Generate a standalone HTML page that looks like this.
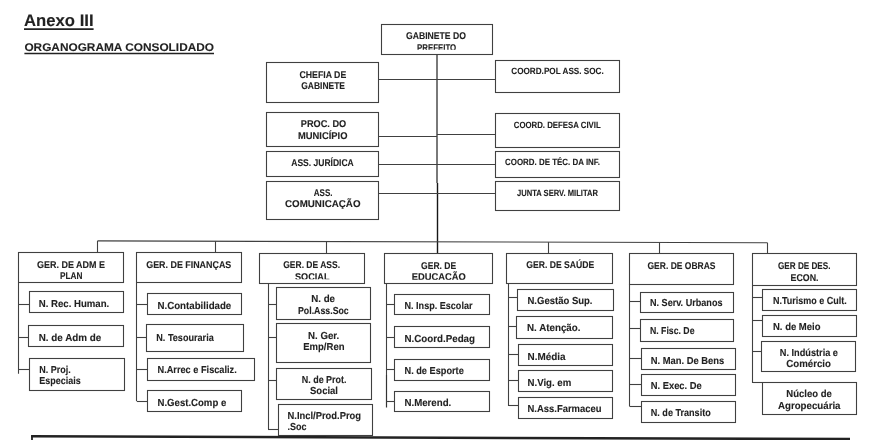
<!DOCTYPE html>
<html lang="pt-BR">
<head>
<meta charset="utf-8">
<title>Anexo III - Organograma Consolidado</title>
<style>
html,body{margin:0;padding:0;background:#fff;}
body{width:890px;height:440px;overflow:hidden;}
svg{display:block;will-change:transform;}
text{text-rendering:geometricPrecision;font-family:"Liberation Sans",sans-serif;font-weight:bold;fill:#222;stroke:#222;stroke-width:0.1px;stroke-linejoin:round;}
</style>
</head>
<body>
<svg width="890" height="440" viewBox="0 0 890 440">
<rect x="0" y="0" width="890" height="440" fill="#ffffff"/>
<text class="t" x="24" y="26.4" font-size="16.8" textLength="69.6" lengthAdjust="spacingAndGlyphs">Anexo III</text>
<line x1="24" y1="29.2" x2="93.6" y2="29.2" stroke="#222" stroke-width="1.8"/>
<text class="t" x="24.4" y="51" font-size="11.2" textLength="189.6" lengthAdjust="spacingAndGlyphs">ORGANOGRAMA CONSOLIDADO</text>
<line x1="24.4" y1="53.5" x2="214" y2="53.5" stroke="#222" stroke-width="1.4"/>
<rect x="381.5" y="24.5" width="111.0" height="30.0" fill="none" stroke="#404040" stroke-width="1.1"/>
<rect x="266.5" y="62.5" width="112.0" height="40.0" fill="none" stroke="#404040" stroke-width="1.1"/>
<rect x="266.5" y="112.5" width="112.0" height="34.0" fill="none" stroke="#404040" stroke-width="1.1"/>
<rect x="266.5" y="151.5" width="112.0" height="25.0" fill="none" stroke="#404040" stroke-width="1.1"/>
<rect x="266.5" y="181.5" width="112.0" height="38.0" fill="none" stroke="#404040" stroke-width="1.1"/>
<rect x="495.5" y="60.5" width="124.0" height="32.0" fill="none" stroke="#404040" stroke-width="1.1"/>
<rect x="495.5" y="113.5" width="124.0" height="34.0" fill="none" stroke="#404040" stroke-width="1.1"/>
<rect x="495.5" y="151.5" width="124.0" height="26.0" fill="none" stroke="#404040" stroke-width="1.1"/>
<rect x="495.5" y="181.5" width="124.0" height="29.0" fill="none" stroke="#404040" stroke-width="1.1"/>
<line x1="437" y1="54.5" x2="437" y2="183" stroke="#404040" stroke-width="1.4"/>
<line x1="437.5" y1="183" x2="437.5" y2="253.5" stroke="#161616" stroke-width="1.4"/>
<line x1="378.75" y1="79.5" x2="437" y2="79.5" stroke="#404040" stroke-width="1.1"/>
<line x1="378.75" y1="136.5" x2="437" y2="136.5" stroke="#404040" stroke-width="1.1"/>
<line x1="378.75" y1="164.5" x2="437" y2="164.5" stroke="#404040" stroke-width="1.1"/>
<line x1="378.75" y1="193.5" x2="437" y2="193.5" stroke="#404040" stroke-width="1.1"/>
<line x1="437" y1="79.5" x2="495.75" y2="79.5" stroke="#404040" stroke-width="1.1"/>
<line x1="437" y1="134.5" x2="495.75" y2="134.5" stroke="#404040" stroke-width="1.1"/>
<line x1="437" y1="164.5" x2="495.75" y2="164.5" stroke="#404040" stroke-width="1.1"/>
<line x1="437" y1="193.5" x2="495.75" y2="193.5" stroke="#404040" stroke-width="1.1"/>
<line x1="97.5" y1="240.9" x2="767.5" y2="242.8" stroke="#404040" stroke-width="1.1"/>
<line x1="97.5" y1="240.9" x2="97.5" y2="253" stroke="#404040" stroke-width="1.1"/>
<line x1="215.5" y1="241.23" x2="215.5" y2="253" stroke="#404040" stroke-width="1.1"/>
<line x1="326.5" y1="241.55" x2="326.5" y2="253.75" stroke="#404040" stroke-width="1.1"/>
<line x1="548.5" y1="242.18" x2="548.5" y2="253.25" stroke="#404040" stroke-width="1.1"/>
<line x1="659.5" y1="242.49" x2="659.5" y2="253.75" stroke="#404040" stroke-width="1.1"/>
<line x1="767.5" y1="242.8" x2="767.5" y2="253.75" stroke="#404040" stroke-width="1.1"/>
<clipPath id="c1"><rect x="380" y="20" width="120" height="29.8"/></clipPath>
<clipPath id="c2"><rect x="258" y="250" width="240" height="29.3"/></clipPath>
<clipPath id="c3"><rect x="380" y="250" width="120" height="29.8"/></clipPath>
<text class="h" x="406" y="39.0" font-size="9.8" textLength="60" lengthAdjust="spacingAndGlyphs">GABINETE DO</text>
<text class="h" x="417" y="51.15" font-size="9.8" textLength="39.25" lengthAdjust="spacingAndGlyphs" clip-path="url(#c1)">PREFEITO</text>
<text class="h" x="299.5" y="77.9" font-size="9.8" textLength="46.75" lengthAdjust="spacingAndGlyphs">CHEFIA DE</text>
<text class="h" x="301.25" y="89.4" font-size="9.8" textLength="43.75" lengthAdjust="spacingAndGlyphs">GABINETE</text>
<text class="h" x="300.75" y="127.4" font-size="9.8" textLength="45.5" lengthAdjust="spacingAndGlyphs">PROC. DO</text>
<text class="h" x="298" y="139.15" font-size="9.8" textLength="49.5" lengthAdjust="spacingAndGlyphs">MUNICÍPIO</text>
<text class="h" x="291.25" y="166.15" font-size="9.8" textLength="62.5" lengthAdjust="spacingAndGlyphs">ASS. JURÍDICA</text>
<text class="h" x="313.75" y="196.15" font-size="9.8" textLength="18.75" lengthAdjust="spacingAndGlyphs">ASS.</text>
<text class="h" x="285" y="207.4" font-size="9.8" textLength="75.5" lengthAdjust="spacingAndGlyphs">COMUNICAÇÃO</text>
<text class="h" x="511.25" y="74.15" font-size="9.0" textLength="92.5" lengthAdjust="spacingAndGlyphs">COORD.POL ASS. SOC.</text>
<text class="h" x="513.75" y="127.7" font-size="9.0" textLength="87.0" lengthAdjust="spacingAndGlyphs">COORD. DEFESA CIVIL</text>
<text class="h" x="505" y="164.9" font-size="9.0" textLength="95" lengthAdjust="spacingAndGlyphs">COORD. DE TÉC. DA INF.</text>
<text class="h" x="517" y="195.65" font-size="9.0" textLength="81" lengthAdjust="spacingAndGlyphs">JUNTA SERV. MILITAR</text>
<rect x="18.5" y="252.5" width="105.0" height="30.0" fill="none" stroke="#404040" stroke-width="1.1"/>
<rect x="136.5" y="252.5" width="105.0" height="30.0" fill="none" stroke="#404040" stroke-width="1.1"/>
<rect x="259.5" y="253.5" width="105.0" height="30.0" fill="none" stroke="#404040" stroke-width="1.1"/>
<rect x="384.5" y="253.5" width="108.0" height="30.0" fill="none" stroke="#404040" stroke-width="1.1"/>
<rect x="506.5" y="253.5" width="106.0" height="30.0" fill="none" stroke="#404040" stroke-width="1.1"/>
<rect x="629.5" y="253.5" width="104.0" height="31.0" fill="none" stroke="#404040" stroke-width="1.1"/>
<rect x="752.5" y="253.5" width="104.0" height="32.0" fill="none" stroke="#404040" stroke-width="1.1"/>
<text class="h" x="37" y="267.9" font-size="9.8" textLength="68" lengthAdjust="spacingAndGlyphs">GER. DE ADM E</text>
<text class="h" x="60" y="278.9" font-size="9.8" textLength="22.5" lengthAdjust="spacingAndGlyphs">PLAN</text>
<text class="h" x="146.25" y="267.9" font-size="9.8" textLength="85.0" lengthAdjust="spacingAndGlyphs">GER. DE FINANÇAS</text>
<text class="h" x="283.25" y="268.15" font-size="9.8" textLength="56.75" lengthAdjust="spacingAndGlyphs">GER. DE ASS.</text>
<text class="h" x="295" y="280.0" font-size="9.8" textLength="34.5" lengthAdjust="spacingAndGlyphs" clip-path="url(#c2)">SOCIAL</text>
<text class="h" x="421.1" y="268.65" font-size="9.8" textLength="35.1" lengthAdjust="spacingAndGlyphs">GER. DE</text>
<text class="h" x="411.7" y="280.4" font-size="9.8" textLength="54.1" lengthAdjust="spacingAndGlyphs" clip-path="url(#c3)">EDUCAÇÃO</text>
<text class="h" x="526.25" y="268.15" font-size="9.8" textLength="68.0" lengthAdjust="spacingAndGlyphs">GER. DE SAÚDE</text>
<text class="h" x="647.5" y="268.65" font-size="9.8" textLength="68.0" lengthAdjust="spacingAndGlyphs">GER. DE OBRAS</text>
<text class="h" x="778" y="269.4" font-size="9.8" textLength="52.5" lengthAdjust="spacingAndGlyphs">GER DE DES.</text>
<text class="h" x="790.5" y="280.65" font-size="9.8" textLength="28.0" lengthAdjust="spacingAndGlyphs">ECON.</text>
<line x1="18.5" y1="283" x2="18.5" y2="373.75" stroke="#404040" stroke-width="1.1"/>
<line x1="136.5" y1="283" x2="136.5" y2="401.25" stroke="#404040" stroke-width="1.1"/>
<line x1="268.5" y1="283.25" x2="268.5" y2="429.25" stroke="#404040" stroke-width="1.1"/>
<line x1="386.5" y1="283.25" x2="386.5" y2="375" stroke="#404040" stroke-width="1.1"/>
<line x1="386.5" y1="375" x2="386.5" y2="407.5" stroke="#333" stroke-width="1.2"/>
<line x1="508.5" y1="283.75" x2="508.5" y2="405.75" stroke="#404040" stroke-width="1.1"/>
<line x1="629.5" y1="284.25" x2="629.5" y2="406.25" stroke="#404040" stroke-width="1.1"/>
<line x1="752.5" y1="285.5" x2="752.5" y2="383" stroke="#404040" stroke-width="1.1"/>
<rect x="29.5" y="291.5" width="94.0" height="21.0" fill="none" stroke="#404040" stroke-width="1.1"/>
<line x1="19" y1="304.5" x2="29.25" y2="304.5" stroke="#404040" stroke-width="1.1"/>
<text class="n" x="38.75" y="306.6" font-size="10.2" textLength="70.5" lengthAdjust="spacingAndGlyphs">N. Rec. Human.</text>
<rect x="28.5" y="325.5" width="95.0" height="21.0" fill="none" stroke="#404040" stroke-width="1.1"/>
<line x1="19" y1="337.5" x2="29" y2="337.5" stroke="#404040" stroke-width="1.1"/>
<text class="n" x="38.75" y="341.1" font-size="10.2" textLength="62.5" lengthAdjust="spacingAndGlyphs">N. de Adm de</text>
<rect x="29.5" y="358.5" width="95.0" height="32.0" fill="none" stroke="#404040" stroke-width="1.1"/>
<line x1="19" y1="369.5" x2="29.5" y2="369.5" stroke="#404040" stroke-width="1.1"/>
<text class="n" x="39.25" y="372.85" font-size="10.2" textLength="31.5" lengthAdjust="spacingAndGlyphs">N. Proj.</text>
<text class="n" x="39.25" y="384.35" font-size="10.2" textLength="41.5" lengthAdjust="spacingAndGlyphs">Especiais</text>
<rect x="147.5" y="293.5" width="94.0" height="21.0" fill="none" stroke="#404040" stroke-width="1.1"/>
<line x1="137" y1="304.5" x2="147.5" y2="304.5" stroke="#404040" stroke-width="1.1"/>
<text class="n" x="157.5" y="308.6" font-size="10.2" textLength="73.75" lengthAdjust="spacingAndGlyphs">N.Contabilidade</text>
<rect x="146.5" y="324.5" width="97.0" height="27.0" fill="none" stroke="#404040" stroke-width="1.1"/>
<line x1="137" y1="337.5" x2="146.25" y2="337.5" stroke="#404040" stroke-width="1.1"/>
<text class="n" x="156.25" y="341.1" font-size="10.2" textLength="57.5" lengthAdjust="spacingAndGlyphs">N. Tesouraria</text>
<rect x="147.5" y="358.5" width="107.0" height="22.0" fill="none" stroke="#404040" stroke-width="1.1"/>
<line x1="137" y1="369.5" x2="147.5" y2="369.5" stroke="#404040" stroke-width="1.1"/>
<text class="n" x="157.5" y="372.85" font-size="10.2" textLength="79.25" lengthAdjust="spacingAndGlyphs">N.Arrec e Fiscaliz.</text>
<rect x="147.5" y="390.5" width="94.0" height="21.0" fill="none" stroke="#404040" stroke-width="1.1"/>
<line x1="137" y1="401.5" x2="147.5" y2="401.5" stroke="#404040" stroke-width="1.1"/>
<text class="n" x="157.5" y="405.6" font-size="10.2" textLength="68.75" lengthAdjust="spacingAndGlyphs">N.Gest.Comp e</text>
<rect x="276.5" y="287.5" width="94.0" height="32.0" fill="none" stroke="#404040" stroke-width="1.1"/>
<line x1="268" y1="304.5" x2="276.25" y2="304.5" stroke="#404040" stroke-width="1.1"/>
<text class="n" x="311.25" y="302.35" font-size="10.2" textLength="23.75" lengthAdjust="spacingAndGlyphs">N. de</text>
<text class="n" x="298" y="313.6" font-size="10.2" textLength="50.75" lengthAdjust="spacingAndGlyphs">Pol.Ass.Soc</text>
<rect x="276.5" y="323.5" width="94.0" height="39.0" fill="none" stroke="#404040" stroke-width="1.1"/>
<line x1="268" y1="337.5" x2="276.25" y2="337.5" stroke="#404040" stroke-width="1.1"/>
<text class="n" x="308" y="338.6" font-size="10.2" textLength="31.25" lengthAdjust="spacingAndGlyphs">N. Ger.</text>
<text class="n" x="303.25" y="350.35" font-size="10.2" textLength="41.25" lengthAdjust="spacingAndGlyphs">Emp/Ren</text>
<rect x="276.5" y="368.5" width="95.0" height="31.0" fill="none" stroke="#404040" stroke-width="1.1"/>
<line x1="268" y1="380.5" x2="277" y2="380.5" stroke="#404040" stroke-width="1.1"/>
<text class="n" x="301.75" y="382.85" font-size="10.2" textLength="44.75" lengthAdjust="spacingAndGlyphs">N. de Prot.</text>
<text class="n" x="310" y="393.6" font-size="10.2" textLength="28" lengthAdjust="spacingAndGlyphs">Social</text>
<rect x="278.5" y="404.5" width="94.0" height="31.0" fill="none" stroke="#404040" stroke-width="1.1"/>
<line x1="268" y1="429.5" x2="278" y2="429.5" stroke="#404040" stroke-width="1.1"/>
<text class="n" x="287.5" y="419.1" font-size="10.2" textLength="73.5" lengthAdjust="spacingAndGlyphs">N.Incl/Prod.Prog</text>
<text class="n" x="287.5" y="429.85" font-size="10.2" textLength="19.0" lengthAdjust="spacingAndGlyphs">.Soc</text>
<rect x="394.5" y="294.5" width="95.0" height="20.0" fill="none" stroke="#404040" stroke-width="1.1"/>
<line x1="386.25" y1="304.5" x2="394.25" y2="304.5" stroke="#404040" stroke-width="1.1"/>
<text class="n" x="404.5" y="309.1" font-size="10.2" textLength="68.0" lengthAdjust="spacingAndGlyphs">N. Insp. Escolar</text>
<rect x="394.5" y="326.5" width="95.0" height="21.0" fill="none" stroke="#404040" stroke-width="1.1"/>
<line x1="386.25" y1="337.5" x2="394.25" y2="337.5" stroke="#404040" stroke-width="1.1"/>
<text class="n" x="404.5" y="341.85" font-size="10.2" textLength="70.5" lengthAdjust="spacingAndGlyphs">N.Coord.Pedag</text>
<rect x="394.5" y="359.5" width="95.0" height="21.0" fill="none" stroke="#404040" stroke-width="1.1"/>
<line x1="386.25" y1="369.5" x2="394.25" y2="369.5" stroke="#404040" stroke-width="1.1"/>
<text class="n" x="404.5" y="374.1" font-size="10.2" textLength="59.25" lengthAdjust="spacingAndGlyphs">N. de Esporte</text>
<rect x="394.5" y="391.5" width="95.0" height="20.0" fill="none" stroke="#404040" stroke-width="1.1"/>
<line x1="386.25" y1="401.5" x2="394.25" y2="401.5" stroke="#404040" stroke-width="1.1"/>
<text class="n" x="404.5" y="405.85" font-size="10.2" textLength="46.75" lengthAdjust="spacingAndGlyphs">N.Merend.</text>
<rect x="517.5" y="289.5" width="96.0" height="21.0" fill="none" stroke="#404040" stroke-width="1.1"/>
<line x1="508" y1="297.5" x2="517.5" y2="297.5" stroke="#404040" stroke-width="1.1"/>
<text class="n" x="527.5" y="304.35" font-size="10.2" textLength="65.0" lengthAdjust="spacingAndGlyphs">N.Gestão Sup.</text>
<rect x="516.5" y="316.5" width="96.0" height="22.0" fill="none" stroke="#404040" stroke-width="1.1"/>
<line x1="508" y1="326.5" x2="517" y2="326.5" stroke="#404040" stroke-width="1.1"/>
<text class="n" x="527" y="331.1" font-size="10.2" textLength="53.5" lengthAdjust="spacingAndGlyphs">N. Atenção.</text>
<rect x="518.5" y="344.5" width="94.0" height="21.0" fill="none" stroke="#404040" stroke-width="1.1"/>
<line x1="508" y1="354.5" x2="518" y2="354.5" stroke="#404040" stroke-width="1.1"/>
<text class="n" x="527.5" y="359.85" font-size="10.2" textLength="38.0" lengthAdjust="spacingAndGlyphs">N.Média</text>
<rect x="518.5" y="370.5" width="94.0" height="21.0" fill="none" stroke="#404040" stroke-width="1.1"/>
<line x1="508" y1="380.5" x2="518" y2="380.5" stroke="#404040" stroke-width="1.1"/>
<text class="n" x="527.5" y="385.6" font-size="10.2" textLength="43.75" lengthAdjust="spacingAndGlyphs">N.Vig. em</text>
<rect x="518.5" y="397.5" width="94.0" height="21.0" fill="none" stroke="#404040" stroke-width="1.1"/>
<line x1="508" y1="405.5" x2="518" y2="405.5" stroke="#404040" stroke-width="1.1"/>
<text class="n" x="527.5" y="412.35" font-size="10.2" textLength="74.0" lengthAdjust="spacingAndGlyphs">N.Ass.Farmaceu</text>
<rect x="640.5" y="292.5" width="93.0" height="20.0" fill="none" stroke="#404040" stroke-width="1.1"/>
<line x1="629.5" y1="301.5" x2="640" y2="301.5" stroke="#404040" stroke-width="1.1"/>
<text class="n" x="650" y="306.1" font-size="10.2" textLength="72.5" lengthAdjust="spacingAndGlyphs">N. Serv. Urbanos</text>
<rect x="640.5" y="319.5" width="93.0" height="22.0" fill="none" stroke="#404040" stroke-width="1.1"/>
<line x1="629.5" y1="328.5" x2="640" y2="328.5" stroke="#404040" stroke-width="1.1"/>
<text class="n" x="650" y="334.1" font-size="10.2" textLength="44.5" lengthAdjust="spacingAndGlyphs">N. Fisc. De</text>
<rect x="641.5" y="348.5" width="94.0" height="21.0" fill="none" stroke="#404040" stroke-width="1.1"/>
<line x1="629.5" y1="358.5" x2="641.25" y2="358.5" stroke="#404040" stroke-width="1.1"/>
<text class="n" x="650.75" y="363.6" font-size="10.2" textLength="73.5" lengthAdjust="spacingAndGlyphs">N. Man. De Bens</text>
<rect x="641.5" y="374.5" width="94.0" height="21.0" fill="none" stroke="#404040" stroke-width="1.1"/>
<line x1="629.5" y1="384.5" x2="641.25" y2="384.5" stroke="#404040" stroke-width="1.1"/>
<text class="n" x="650.75" y="389.1" font-size="10.2" textLength="51.0" lengthAdjust="spacingAndGlyphs">N. Exec. De</text>
<rect x="641.5" y="401.5" width="94.0" height="21.0" fill="none" stroke="#404040" stroke-width="1.1"/>
<line x1="629.5" y1="406.5" x2="641.25" y2="406.5" stroke="#404040" stroke-width="1.1"/>
<text class="n" x="650.75" y="415.6" font-size="10.2" textLength="60.0" lengthAdjust="spacingAndGlyphs">N. de Transito</text>
<rect x="762.5" y="289.5" width="94.0" height="21.0" fill="none" stroke="#404040" stroke-width="1.1"/>
<line x1="752.75" y1="297.5" x2="762.5" y2="297.5" stroke="#404040" stroke-width="1.1"/>
<text class="n" x="773" y="304.35" font-size="10.2" textLength="73.75" lengthAdjust="spacingAndGlyphs">N.Turismo e Cult.</text>
<rect x="762.5" y="315.5" width="94.0" height="21.0" fill="none" stroke="#404040" stroke-width="1.1"/>
<line x1="752.75" y1="320.5" x2="762.25" y2="320.5" stroke="#404040" stroke-width="1.1"/>
<text class="n" x="773" y="329.85" font-size="10.2" textLength="47.5" lengthAdjust="spacingAndGlyphs">N. de Meio</text>
<rect x="761.5" y="341.5" width="94.0" height="30.0" fill="none" stroke="#404040" stroke-width="1.1"/>
<line x1="752.75" y1="351.5" x2="761.25" y2="351.5" stroke="#404040" stroke-width="1.1"/>
<text class="n" x="779.75" y="356.1" font-size="10.2" textLength="58.25" lengthAdjust="spacingAndGlyphs">N. Indústria e</text>
<text class="n" x="786.25" y="367.35" font-size="10.2" textLength="44.75" lengthAdjust="spacingAndGlyphs">Comércio</text>
<rect x="762.5" y="382.5" width="94.0" height="32.0" fill="none" stroke="#404040" stroke-width="1.1"/>
<line x1="752.75" y1="382.5" x2="762.25" y2="382.5" stroke="#404040" stroke-width="1.1"/>
<text class="n" x="786.25" y="397.35" font-size="10.2" textLength="45.5" lengthAdjust="spacingAndGlyphs">Núcleo de</text>
<text class="n" x="778" y="408.6" font-size="10.2" textLength="62.5" lengthAdjust="spacingAndGlyphs">Agropecuária</text>
<line x1="31.1" y1="436.35" x2="850" y2="439.1" stroke="#222" stroke-width="2.5"/>
<line x1="32" y1="435.2" x2="32" y2="440" stroke="#222" stroke-width="1.8"/>
</svg>
</body>
</html>
